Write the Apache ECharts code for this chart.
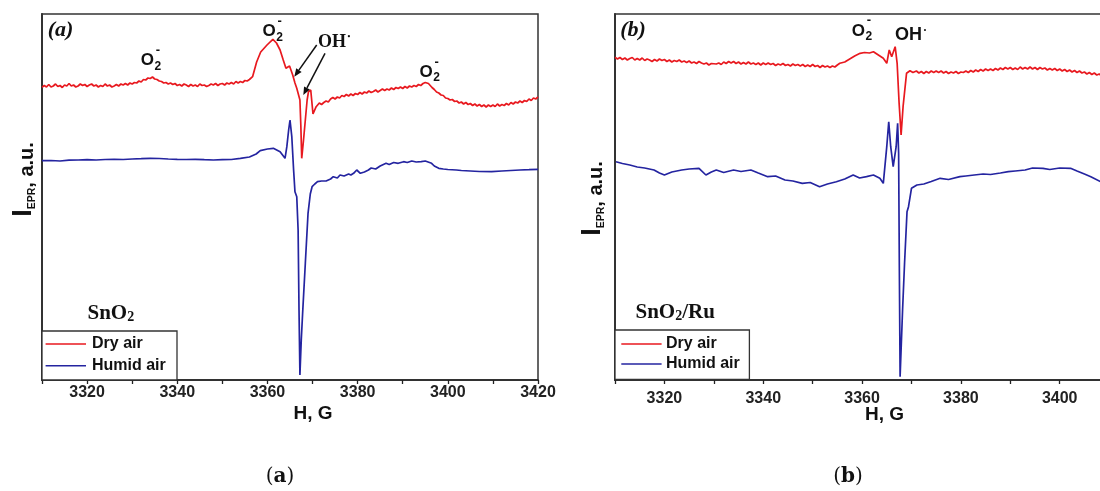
<!DOCTYPE html>
<html>
<head>
<meta charset="utf-8">
<script src="https://cdn.jsdelivr.net/npm/echarts@6/dist/echarts.min.js"></script>
<style>html,body{margin:0;padding:0;background:#fff}#c{width:1100px;height:491px}</style>
</head>
<body>
<div id="c"></div>
<script>
// ---- data: [H (G), I_EPR (a.u.)] ----
const dryA = [[3310,292.7],[3310.5,294.5],[3311,293],[3311.5,295.5],[3312,293],[3312.5,294],[3313,296],[3313.5,293.5],[3314,294.5],[3314.5,292.5],[3315,295],[3315.5,294],[3316,296.5],[3316.5,294],[3317,295],[3317.5,293],[3318,294],[3318.5,296],[3319,294.5],[3319.5,295.5],[3320,293.5],[3320.5,295],[3321,296],[3321.5,294],[3322,295],[3322.5,293],[3323,294.5],[3323.5,293.5],[3324,296],[3324.5,294],[3325,295],[3325.5,293],[3326,294],[3326.5,295.5],[3327,294],[3327.5,296],[3328,295],[3328.5,296.5],[3329,295],[3329.5,297],[3330,296],[3330.5,297.5],[3331,297],[3331.5,299],[3332,298],[3332.5,300.5],[3333,300],[3333.5,302],[3334,301.5],[3334.5,303],[3335,301],[3335.5,300.5],[3336,299],[3336.5,298.5],[3337,297],[3337.5,297.5],[3338,296],[3338.5,297],[3339,295.5],[3339.5,296.5],[3340,294.5],[3340.5,295.5],[3341,294],[3341.5,296],[3342,295],[3342.5,293.5],[3343,295.5],[3343.5,294],[3344,295],[3344.5,293.5],[3345,296],[3345.5,294.5],[3346,295],[3346.5,293.5],[3347,294.5],[3347.5,296],[3348,295],[3348.5,296.5],[3349,294.5],[3349.5,296],[3350,296.5],[3350.5,295],[3351,297],[3351.5,296],[3352,297.5],[3352.5,296],[3353,298.5],[3353.5,297],[3354,298.5],[3354.5,297.5],[3355,299.5],[3355.5,299],[3356,300.5],[3356.7,303.3],[3357.6,318],[3358.5,328],[3359.9,335],[3361.2,340.7],[3362,337],[3362.8,330],[3363.5,320],[3364.1,311.7],[3364.9,314],[3365.6,305],[3366.1,297],[3366.5,291.7],[3366.9,291],[3367.2,280],[3367.4,255],[3367.6,221.7],[3368,240],[3368.4,260],[3368.8,280],[3369.1,288.3],[3369.6,290],[3370.1,266],[3370.5,268],[3370.8,273.3],[3371.5,277],[3372,275.5],[3372.5,277.5],[3373,279],[3373.5,278],[3374,281],[3374.5,282.5],[3375,281],[3375.5,283],[3376,282],[3376.5,284.5],[3377,283.5],[3377.5,285.5],[3378,284],[3378.5,286],[3379,284.5],[3379.5,286.5],[3380,285.5],[3380.5,287.5],[3381,286],[3381.5,288],[3382,287],[3382.5,289],[3383,287.5],[3383.5,288.5],[3384,290],[3384.5,288],[3385,289.5],[3385.5,291],[3386,289.5],[3386.5,291],[3387,290],[3387.5,292],[3388,290.5],[3388.5,292.5],[3389,291.5],[3389.5,293],[3390,291.5],[3390.5,293.5],[3391,292],[3391.5,294],[3392,293],[3392.5,294.5],[3393,293.5],[3393.5,295.5],[3394,294.5],[3394.5,296.5],[3395,297.5],[3395.3,299],[3395.7,296.5],[3396,295],[3396.5,292.5],[3397,290.5],[3397.5,288],[3398,287],[3398.5,285],[3399,284.5],[3399.5,282],[3400,281.5],[3400.5,280],[3401,280.5],[3401.5,278.5],[3402,279],[3402.5,277],[3403,278],[3403.5,276],[3404,277.5],[3404.5,275.5],[3405,276.5],[3405.5,274.5],[3406,276],[3406.5,274],[3407,275.5],[3407.5,273.5],[3408,275],[3408.5,273],[3409,275],[3409.5,273.5],[3410,275],[3410.5,273.5],[3411,276],[3411.5,274],[3412,275.5],[3412.5,274.5],[3413,276.5],[3413.5,275],[3414,277.5],[3414.5,276],[3415,278],[3415.5,277],[3416,279],[3416.5,277.5],[3417,279.5],[3417.5,278.5],[3418,281],[3418.5,279.5],[3419,282],[3419.5,281],[3420,283]];
const humidA = [[3310,219.3],[3312,219.5],[3314,219],[3316,219.8],[3318,220],[3320,220.3],[3322,220],[3324,220.5],[3326,220.7],[3328,220.5],[3330,221],[3332,221.3],[3334,221.7],[3336,221.5],[3338,221],[3340,220.7],[3342,220.5],[3344,220.7],[3346,220.3],[3348,220],[3350,220.3],[3352,220.5],[3354,221.7],[3356,223],[3357.5,226],[3358.4,229.3],[3360,231],[3361.3,231.7],[3362.8,228.3],[3363.9,221.7],[3364.3,233.3],[3364.7,250],[3365,260],[3365.4,243.3],[3365.8,210],[3366.1,188.3],[3366.5,183.3],[3366.8,150],[3367,70],[3367.2,5],[3367.5,40],[3367.8,66.7],[3368.4,116.7],[3369,166.7],[3369.5,186],[3369.9,193.3],[3370.5,196],[3371.1,198.3],[3372,199],[3372.4,200],[3373,199],[3374,201],[3374.6,203.3],[3375.5,202],[3376.1,205],[3377,204],[3378,206],[3378.5,205],[3379.1,206.7],[3379.8,210],[3380.6,206.7],[3381.5,208],[3382.4,210],[3383,212],[3384,211],[3385,214],[3386.3,216.7],[3387,215.5],[3388,217.5],[3389,216.7],[3390.2,218.3],[3391,217.5],[3392,219],[3393,218],[3394.1,218.3],[3395,219],[3396.4,216.7],[3397,214],[3398,211.7],[3399,211],[3400,210.5],[3401.9,210],[3403,209.5],[3405,209],[3407,208.5],[3409.7,208.3],[3412,209],[3414,209.5],[3416,210],[3418,210.3],[3420,210.7]];
const dryB = [[3310,322.7],[3310.5,321],[3311,322.5],[3311.5,320.5],[3312,322],[3312.5,320],[3313,321.5],[3313.5,322.5],[3314,320],[3314.5,321.5],[3315,320],[3315.5,322],[3316,319.5],[3316.5,321],[3317,320],[3317.5,318.5],[3318,320.5],[3318.5,319],[3319,321],[3319.5,319.5],[3320,320.5],[3320.5,318.5],[3321,320],[3321.5,318],[3322,319.5],[3322.5,318.5],[3323,320],[3323.5,318],[3324,319],[3324.5,317.5],[3325,319],[3325.5,317],[3326,318],[3326.5,316.5],[3327,318.5],[3327.5,317],[3328,316],[3328.5,317],[3329,315],[3329.5,316.5],[3329.8,314.5],[3330.5,316],[3331,317],[3331.5,315.5],[3332,318],[3332.5,316.5],[3333,318.5],[3333.5,317],[3334,318.5],[3334.5,316.5],[3335,318],[3335.5,316],[3336,317.5],[3336.5,316],[3337,318],[3337.5,316],[3338,317],[3338.5,315.5],[3339,317],[3339.5,315],[3340,317],[3340.5,315.5],[3341,317],[3341.5,315.5],[3342,316.5],[3342.5,314.5],[3343,316],[3343.5,315],[3344,316.5],[3344.5,314.5],[3345,315.5],[3345.5,314],[3346,316],[3346.5,314.5],[3347,315.5],[3347.5,314],[3348,315.5],[3348.5,313.5],[3349,315],[3349.5,313.5],[3350,315.5],[3350.5,313.5],[3351,314.5],[3351.5,312.5],[3352,314.5],[3352.5,313],[3353,314],[3353.5,312.5],[3354,314],[3354.5,313],[3355,315],[3355.5,316.7],[3356.5,318],[3357.5,321],[3358.5,324],[3359.6,326.7],[3360.5,327.5],[3361.5,327],[3362.3,328.3],[3363.3,325],[3364.3,321.7],[3365,316.7],[3365.5,330],[3366,323.3],[3366.7,333.3],[3367.1,316.7],[3367.5,276.7],[3367.9,245],[3368.3,273.3],[3369,306.7],[3369.7,309.3],[3370.3,307.5],[3371,309],[3371.5,307],[3372,308.5],[3372.5,306.5],[3373,308.5],[3373.5,307],[3374,309],[3374.5,307.5],[3375,309],[3375.5,307.5],[3376,309],[3376.5,307],[3377,308.5],[3377.5,306.5],[3378,308],[3378.5,307],[3379,308.5],[3379.5,306.5],[3380,308],[3380.5,307.5],[3381,309],[3381.5,307.5],[3382,309.5],[3382.5,308],[3383,310],[3383.5,308.5],[3384,310.5],[3384.5,309],[3385,311],[3385.5,309.5],[3386,311],[3386.5,309.5],[3387,311.5],[3387.5,310],[3388,312],[3388.5,310.5],[3389,312.5],[3389.5,311],[3390,312.5],[3390.5,310.5],[3391,312],[3391.5,310.5],[3392,313],[3392.5,311],[3393,312.5],[3393.5,311],[3394,313],[3394.5,311],[3395,312.5],[3395.5,310.5],[3396,312.5],[3396.5,311],[3397,312],[3397.5,310],[3398,311.5],[3398.5,310],[3399,311.5],[3399.5,309.5],[3400,311],[3400.5,309],[3401,310.5],[3401.5,308.5],[3402,310],[3402.5,308],[3403,309.5],[3403.5,307.5],[3404,309],[3404.5,307],[3405,308],[3405.5,306],[3406,307.5],[3406.5,305.5],[3407,307],[3407.5,305],[3408,306],[3408.5,304],[3409,305.5],[3409.5,303.5],[3410,305],[3410.5,303.5],[3411,305],[3411.5,303],[3412,304]];
const humidB = [[3310.2,218.3],[3311.5,216.5],[3313,215],[3314.5,213],[3316,212],[3317.9,210],[3319,207],[3320,205],[3321.5,208],[3323.5,210],[3325,211],[3327,211.7],[3328.4,205],[3329.5,208],[3330.5,210],[3332,207.5],[3334,210],[3335.5,208.5],[3337.5,210],[3339,207],[3340.9,203.3],[3342.5,204],[3344.4,200],[3346,199],[3347.9,196.7],[3349.5,197.5],[3351.4,193.3],[3353,196],[3354.8,198.3],[3356.5,201],[3358.2,205],[3359.5,202],[3360.9,203.3],[3362.3,205],[3363.6,201.7],[3364.3,196.7],[3365,233.3],[3365.4,258.3],[3365.8,233.3],[3366.3,213.3],[3366.9,233.3],[3367.2,256.7],[3367.4,227],[3367.55,110],[3367.7,3.3],[3368.2,70],[3368.6,116.7],[3369.1,168.3],[3369.4,173.3],[3370,191.7],[3371.1,195],[3372.5,196],[3374,198.5],[3375.8,201.7],[3377.5,200.5],[3379.8,203.3],[3381,204],[3382.7,205],[3384.5,206],[3386,205.5],[3388,207],[3389.6,208.3],[3391,209],[3393,210],[3394.5,212],[3396.6,211.7],[3398,210.5],[3400,212],[3402.2,211.7],[3403.5,209],[3405,206],[3406.3,203.3],[3408.3,198.3],[3410,196],[3412,194]];
const tickLabels = [3320, 3340, 3360, 3380, 3400, 3420];
const legendNames = ['Dry air', 'Humid air'];

const RED = '#e8191f', BLUE = '#2424a0';
const SANS = 'Liberation Sans', SERIF = 'Liberation Serif';

function xAxisCfg(gi, max, margin) {
  return {
    type: 'value', gridIndex: gi, min: 3310, max: max, interval: 10,
    axisLine: { show: true, lineStyle: { color: '#222', width: 1.6 } },
    axisTick: { show: true, length: 4, lineStyle: { color: '#222', width: 1.3 } },
    axisLabel: {
      margin: margin, color: '#222', fontFamily: SANS, fontWeight: 'bold', fontSize: 16,
      formatter: v => tickLabels.indexOf(v) >= 0 ? String(v) : ''
    },
    splitLine: { show: false }
  };
}
function yAxisCfg(gi) {
  return {
    type: 'value', gridIndex: gi, min: 0, max: 366,
    axisLine: { show: true, lineStyle: { color: '#333', width: 2 } },
    axisTick: { show: false }, axisLabel: { show: false }, splitLine: { show: false }
  };
}
function lineSeries(name, data, color, gi) {
  return {
    type: 'line', name: name, data: data, xAxisIndex: gi, yAxisIndex: gi,
    showSymbol: false, symbol: 'none', smooth: false, animation: false,
    lineStyle: { color: color, width: 1.7 }, itemStyle: { color: color }
  };
}

function T(x, y, text, s) {
  return {
    type: 'text', x: x, y: y, z: 100,
    style: Object.assign({
      text: text, fill: '#111', align: 'center', verticalAlign: 'middle',
      textAlign: 'center', textVerticalAlign: 'middle',
      fontFamily: SANS, fontWeight: 'bold', fontSize: 16
    }, s || {})
  };
}
function O2minus(x, y) {
  return [
    T(x, y, 'O', { fontSize: 17 }),
    T(x + 10.5, y + 5.5, '2', { fontSize: 12 }),
    T(x + 10.5, y - 10.5, '-', { fontSize: 13 })
  ];
}
function arrow(x1, y1, x2, y2) {
  const dx = x2 - x1, dy = y2 - y1, L = Math.hypot(dx, dy), ux = dx / L, uy = dy / L;
  const hl = 8, hw = 3.3, bx = x2 - ux * hl, by = y2 - uy * hl;
  return [
    { type: 'line', z: 100, shape: { x1: x1, y1: y1, x2: bx, y2: by }, style: { stroke: '#111', lineWidth: 1.5 } },
    { type: 'polygon', z: 100, shape: { points: [[x2, y2], [bx - uy * hw, by + ux * hw], [bx + uy * hw, by - ux * hw]] }, style: { fill: '#111' } }
  ];
}
function legendBox(x0, y0, w, h, lineX1, lineX2, textX, y1, y2) {
  return [
    { type: 'rect', z: 90, shape: { x: x0, y: y0, width: w, height: h }, style: { fill: '#fff', stroke: '#333', lineWidth: 1.3 } },
    { type: 'line', z: 100, shape: { x1: lineX1, y1: y1, x2: lineX2, y2: y1 }, style: { stroke: RED, lineWidth: 1.6 } },
    { type: 'line', z: 100, shape: { x1: lineX1, y1: y2, x2: lineX2, y2: y2 }, style: { stroke: BLUE, lineWidth: 1.6 } },
    T(textX, y1, legendNames[0], { align: 'left', textAlign: 'left', fontSize: 16 }),
    T(textX, y2, legendNames[1], { align: 'left', textAlign: 'left', fontSize: 16 })
  ];
}
function yLabel(x, y) {
  return {
    type: 'text', x: x, y: y, rotation: Math.PI / 2, z: 100,
    style: {
      text: '{i|I}{s|EPR}{t|, a.u.}', align: 'center', verticalAlign: 'middle',
      textAlign: 'center', textVerticalAlign: 'middle', fill: '#111',
      rich: {
        i: { fontFamily: SANS, fontWeight: 'bold', fontSize: 27, lineHeight: 27, verticalAlign: 'bottom', fill: '#111' },
        s: { fontFamily: SANS, fontWeight: 'bold', fontSize: 10.5, lineHeight: 14, verticalAlign: 'bottom', fill: '#111' },
        t: { fontFamily: SANS, fontWeight: 'bold', fontSize: 20, lineHeight: 22, verticalAlign: 'bottom', fill: '#111' }
      }
    }
  };
}
function sampleLabel(x, y, after) {
  return {
    type: 'text', x: x, y: y, z: 100,
    style: {
      text: '{m|SnO}{s|2}' + (after ? '{m|' + after + '}' : ''), align: 'left', textAlign: 'left',
      verticalAlign: 'middle', textVerticalAlign: 'middle', fill: '#111',
      rich: {
        m: { fontFamily: SERIF, fontWeight: 'bold', fontSize: 21, lineHeight: 22, verticalAlign: 'bottom', fill: '#111' },
        s: { fontFamily: SERIF, fontWeight: 'bold', fontSize: 14, lineHeight: 10, verticalAlign: 'bottom', fill: '#111' }
      }
    }
  };
}
function caption(x, y, letter) {
  return {
    type: 'text', x: x, y: y, z: 100,
    style: {
      text: '{p|(}{b|' + letter + '}{p|)}', align: 'center', textAlign: 'center',
      verticalAlign: 'middle', textVerticalAlign: 'middle', fill: '#111',
      rich: {
        p: { fontFamily: 'DejaVu Serif', fontSize: 20, fill: '#111' },
        b: { fontFamily: 'DejaVu Serif', fontWeight: 'bold', fontSize: 20, fill: '#111' }
      }
    }
  };
}

const graphics = [].concat(
  T(60.5, 30, '(a)', { fontFamily: SERIF, fontStyle: 'italic', fontSize: 22 }),
  T(633, 30, '(b)', { fontFamily: SERIF, fontStyle: 'italic', fontSize: 22 }),
  O2minus(147.3, 60.8), O2minus(269.2, 31.7), O2minus(426.2, 72.5), O2minus(858.3, 31.3),
  T(332, 42, 'OH', { fontFamily: SERIF, fontSize: 18 }),
  T(349, 37, '\u2022', { fontFamily: SERIF, fontSize: 8 }),
  T(908.5, 35.3, 'OH', { fontSize: 18 }),
  T(925, 30.5, '\u2022', { fontSize: 7 }),
  arrow(316.7, 45, 294.3, 76.7), arrow(325, 53.3, 303.3, 95),
  sampleLabel(87.5, 313, ''), sampleLabel(635.5, 312, '/Ru'),
  legendBox(42, 331, 135, 49, 45.6, 86, 92, 344, 365.7),
  legendBox(615, 330, 134.4, 49.5, 621.3, 661.6, 666, 344, 364),
  T(313, 413.5, 'H, G', { fontSize: 19 }),
  T(884.6, 415, 'H, G', { fontSize: 19 }),
  yLabel(24, 179.5), yLabel(593, 198.5),
  caption(280, 477, 'a'), caption(848, 477, 'b')
);

const chart = echarts.init(document.getElementById('c'), null, { renderer: 'canvas' });
chart.setOption({
  backgroundColor: '#fff',
  animation: false,
  grid: [
    { left: 42, top: 14, width: 496, height: 366, show: true, borderColor: '#333', borderWidth: 1.5, backgroundColor: 'transparent', containLabel: false, outerBoundsMode: 'none' },
    { left: 615, top: 14, width: 504, height: 366, show: true, borderColor: '#333', borderWidth: 1.5, backgroundColor: 'transparent', containLabel: false, outerBoundsMode: 'none' }
  ],
  xAxis: [xAxisCfg(0, 3420, 5), xAxisCfg(1, 3412, 11)],
  yAxis: [yAxisCfg(0), yAxisCfg(1)],
  series: [
    lineSeries(legendNames[0], dryA, RED, 0),
    lineSeries(legendNames[1], humidA, BLUE, 0),
    lineSeries(legendNames[0], dryB, RED, 1),
    lineSeries(legendNames[1], humidB, BLUE, 1)
  ],
  graphic: { elements: graphics }
});
</script>
</body>
</html>
